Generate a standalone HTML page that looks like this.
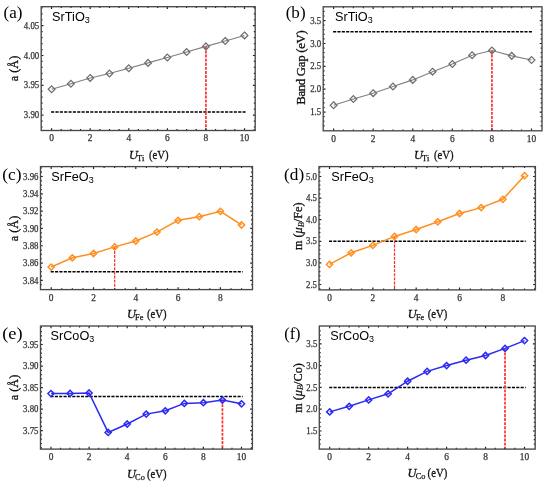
<!DOCTYPE html>
<html><head><meta charset="utf-8"><style>
html,body{margin:0;padding:0;background:#fff;}
svg{display:block;will-change:transform;}
.tl{font-family:"Liberation Serif", serif;font-size:9.4px;fill:#333;stroke:#333;stroke-width:0.25px;}
.pl{font-family:"Liberation Serif", serif;font-size:15.8px;fill:#000;}
.ti{font-family:"Liberation Sans", sans-serif;font-size:12.7px;fill:#000;}
.sub{font-size:9px;}
.yl{font-family:"Liberation Serif", serif;font-size:12.8px;fill:#111;stroke:#111;stroke-width:0.3px;letter-spacing:-0.3px;}
.xl{font-family:"Liberation Serif", serif;font-size:12.3px;fill:#111;stroke:#111;stroke-width:0.3px;}
</style></head><body>
<svg width="550" height="484" viewBox="0 0 550 484">
<rect width="550" height="484" fill="#fff"/>
<line x1="51.1" y1="112.12" x2="245.7" y2="112.12" stroke="#000" stroke-width="1.5" stroke-dasharray="3.1 1.25"/>
<line x1="205.92" y1="46.38" x2="205.92" y2="130.5" stroke="#ff3333" stroke-width="1.75" stroke-dasharray="2.9 1.2"/>
<polyline points="51.6,89.29 70.89,83.81 90.18,77.91 109.47,73.5 128.76,68.31 148.05,62.89 167.34,57.53 186.63,51.98 205.92,46.38 225.21,40.96 244.5,35.41" fill="none" stroke="#7f7f7f" stroke-width="1.1"/>
<path d="M51.6 85.89L55 89.29L51.6 92.69L48.2 89.29Z" fill="none" stroke="#6e6e6e" stroke-width="1.25"/>
<path d="M70.89 80.41L74.29 83.81L70.89 87.21L67.49 83.81Z" fill="none" stroke="#6e6e6e" stroke-width="1.25"/>
<path d="M90.18 74.51L93.58 77.91L90.18 81.31L86.78 77.91Z" fill="none" stroke="#6e6e6e" stroke-width="1.25"/>
<path d="M109.47 70.1L112.87 73.5L109.47 76.9L106.07 73.5Z" fill="none" stroke="#6e6e6e" stroke-width="1.25"/>
<path d="M128.76 64.91L132.16 68.31L128.76 71.71L125.36 68.31Z" fill="none" stroke="#6e6e6e" stroke-width="1.25"/>
<path d="M148.05 59.49L151.45 62.89L148.05 66.29L144.65 62.89Z" fill="none" stroke="#6e6e6e" stroke-width="1.25"/>
<path d="M167.34 54.13L170.74 57.53L167.34 60.93L163.94 57.53Z" fill="none" stroke="#6e6e6e" stroke-width="1.25"/>
<path d="M186.63 48.58L190.03 51.98L186.63 55.38L183.23 51.98Z" fill="none" stroke="#6e6e6e" stroke-width="1.25"/>
<path d="M205.92 42.98L209.32 46.38L205.92 49.78L202.52 46.38Z" fill="none" stroke="#6e6e6e" stroke-width="1.25"/>
<path d="M225.21 37.56L228.61 40.96L225.21 44.36L221.81 40.96Z" fill="none" stroke="#6e6e6e" stroke-width="1.25"/>
<path d="M244.5 32.01L247.9 35.41L244.5 38.81L241.1 35.41Z" fill="none" stroke="#6e6e6e" stroke-width="1.25"/>
<path d="M51.6 130.5V128.2M51.6 6.7V9M61.25 130.5V129.1M61.25 6.7V8.1M70.89 130.5V129.1M70.89 6.7V8.1M80.53 130.5V129.1M80.53 6.7V8.1M90.18 130.5V128.2M90.18 6.7V9M99.82 130.5V129.1M99.82 6.7V8.1M109.47 130.5V129.1M109.47 6.7V8.1M119.12 130.5V129.1M119.12 6.7V8.1M128.76 130.5V128.2M128.76 6.7V9M138.41 130.5V129.1M138.41 6.7V8.1M148.05 130.5V129.1M148.05 6.7V8.1M157.69 130.5V129.1M157.69 6.7V8.1M167.34 130.5V128.2M167.34 6.7V9M176.98 130.5V129.1M176.98 6.7V8.1M186.63 130.5V129.1M186.63 6.7V8.1M196.27 130.5V129.1M196.27 6.7V8.1M205.92 130.5V128.2M205.92 6.7V9M215.56 130.5V129.1M215.56 6.7V8.1M225.21 130.5V129.1M225.21 6.7V8.1M234.85 130.5V129.1M234.85 6.7V8.1M244.5 130.5V128.2M244.5 6.7V9M254.14 130.5V129.1M254.14 6.7V8.1M41.2 127.02H42.6M255.2 127.02H253.8M41.2 121.06H42.6M255.2 121.06H253.8M41.2 115.1H43.5M255.2 115.1H252.9M41.2 109.14H42.6M255.2 109.14H253.8M41.2 103.18H42.6M255.2 103.18H253.8M41.2 97.22H42.6M255.2 97.22H253.8M41.2 91.26H42.6M255.2 91.26H253.8M41.2 85.3H43.5M255.2 85.3H252.9M41.2 79.34H42.6M255.2 79.34H253.8M41.2 73.38H42.6M255.2 73.38H253.8M41.2 67.42H42.6M255.2 67.42H253.8M41.2 61.46H42.6M255.2 61.46H253.8M41.2 55.5H43.5M255.2 55.5H252.9M41.2 49.54H42.6M255.2 49.54H253.8M41.2 43.58H42.6M255.2 43.58H253.8M41.2 37.62H42.6M255.2 37.62H253.8M41.2 31.66H42.6M255.2 31.66H253.8M41.2 25.7H43.5M255.2 25.7H252.9M41.2 19.74H42.6M255.2 19.74H253.8M41.2 13.78H42.6M255.2 13.78H253.8M41.2 7.82H42.6M255.2 7.82H253.8" stroke="#222" stroke-width="1.2" fill="none"/>
<rect x="41.2" y="6.7" width="214" height="123.8" fill="none" stroke="#484848" stroke-width="1.35"/>
<text x="23.8" y="118.2" class="tl" textLength="15.4" lengthAdjust="spacingAndGlyphs">3.90</text>
<text x="23.8" y="88.4" class="tl" textLength="15.4" lengthAdjust="spacingAndGlyphs">3.95</text>
<text x="23.8" y="58.6" class="tl" textLength="15.4" lengthAdjust="spacingAndGlyphs">4.00</text>
<text x="23.8" y="28.8" class="tl" textLength="15.4" lengthAdjust="spacingAndGlyphs">4.05</text>
<text x="51.6" y="141.4" class="tl" text-anchor="middle">0</text>
<text x="90.18" y="141.4" class="tl" text-anchor="middle">2</text>
<text x="128.76" y="141.4" class="tl" text-anchor="middle">4</text>
<text x="167.34" y="141.4" class="tl" text-anchor="middle">6</text>
<text x="205.92" y="141.4" class="tl" text-anchor="middle">8</text>
<text x="244.5" y="141.4" class="tl" text-anchor="middle">10</text>
<text x="3.5" y="18.4" class="pl" textLength="18.9" lengthAdjust="spacingAndGlyphs">(a)</text>
<text x="52.1" y="21.1" class="ti">SrTiO<tspan class="sub" dy="1.7">3</tspan></text>
<text transform="translate(13.6 68.5) rotate(-90)" class="yl" text-anchor="middle" dominant-baseline="central" style="font-size:12.2px;letter-spacing:0">a (Å)</text>
<text x="129" y="159" class="xl" font-style="italic">U</text>
<text x="137.1" y="161" class="xl" style="font-size:8.4px;stroke-width:0.25px">Ti</text>
<text x="149" y="159" class="xl" textLength="19.6" lengthAdjust="spacingAndGlyphs">(eV)</text>
<line x1="333.1" y1="31.85" x2="532.7" y2="31.85" stroke="#000" stroke-width="1.5" stroke-dasharray="3.1 1.25"/>
<line x1="491.92" y1="50.47" x2="491.92" y2="130.8" stroke="#ff3333" stroke-width="1.75" stroke-dasharray="2.9 1.2"/>
<polyline points="333.6,105.19 353.39,99.06 373.18,93.16 392.97,86.48 412.76,79.89 432.55,71.66 452.34,63.97 472.13,55.28 491.92,50.47 511.71,55.87 531.5,60.08" fill="none" stroke="#7f7f7f" stroke-width="1.1"/>
<path d="M333.6 101.79L337 105.19L333.6 108.59L330.2 105.19Z" fill="none" stroke="#6e6e6e" stroke-width="1.25"/>
<path d="M353.39 95.66L356.79 99.06L353.39 102.46L349.99 99.06Z" fill="none" stroke="#6e6e6e" stroke-width="1.25"/>
<path d="M373.18 89.76L376.58 93.16L373.18 96.56L369.78 93.16Z" fill="none" stroke="#6e6e6e" stroke-width="1.25"/>
<path d="M392.97 83.08L396.37 86.48L392.97 89.88L389.57 86.48Z" fill="none" stroke="#6e6e6e" stroke-width="1.25"/>
<path d="M412.76 76.49L416.16 79.89L412.76 83.29L409.36 79.89Z" fill="none" stroke="#6e6e6e" stroke-width="1.25"/>
<path d="M432.55 68.26L435.95 71.66L432.55 75.06L429.15 71.66Z" fill="none" stroke="#6e6e6e" stroke-width="1.25"/>
<path d="M452.34 60.57L455.74 63.97L452.34 67.37L448.94 63.97Z" fill="none" stroke="#6e6e6e" stroke-width="1.25"/>
<path d="M472.13 51.88L475.53 55.28L472.13 58.68L468.73 55.28Z" fill="none" stroke="#6e6e6e" stroke-width="1.25"/>
<path d="M491.92 47.07L495.32 50.47L491.92 53.87L488.52 50.47Z" fill="none" stroke="#6e6e6e" stroke-width="1.25"/>
<path d="M511.71 52.47L515.11 55.87L511.71 59.27L508.31 55.87Z" fill="none" stroke="#6e6e6e" stroke-width="1.25"/>
<path d="M531.5 56.68L534.9 60.08L531.5 63.48L528.1 60.08Z" fill="none" stroke="#6e6e6e" stroke-width="1.25"/>
<path d="M333.6 130.8V128.5M333.6 6.8V9.1M343.5 130.8V129.4M343.5 6.8V8.2M353.39 130.8V129.4M353.39 6.8V8.2M363.29 130.8V129.4M363.29 6.8V8.2M373.18 130.8V128.5M373.18 6.8V9.1M383.08 130.8V129.4M383.08 6.8V8.2M392.97 130.8V129.4M392.97 6.8V8.2M402.87 130.8V129.4M402.87 6.8V8.2M412.76 130.8V128.5M412.76 6.8V9.1M422.66 130.8V129.4M422.66 6.8V8.2M432.55 130.8V129.4M432.55 6.8V8.2M442.45 130.8V129.4M442.45 6.8V8.2M452.34 130.8V128.5M452.34 6.8V9.1M462.24 130.8V129.4M462.24 6.8V8.2M472.13 130.8V129.4M472.13 6.8V8.2M482.02 130.8V129.4M482.02 6.8V8.2M491.92 130.8V128.5M491.92 6.8V9.1M501.82 130.8V129.4M501.82 6.8V8.2M511.71 130.8V129.4M511.71 6.8V8.2M521.61 130.8V129.4M521.61 6.8V8.2M531.5 130.8V128.5M531.5 6.8V9.1M323.2 125.82H324.6M542 125.82H540.6M323.2 121.25H324.6M542 121.25H540.6M323.2 116.67H324.6M542 116.67H540.6M323.2 112.1H325.5M542 112.1H539.7M323.2 107.53H324.6M542 107.53H540.6M323.2 102.95H324.6M542 102.95H540.6M323.2 98.38H324.6M542 98.38H540.6M323.2 93.8H324.6M542 93.8H540.6M323.2 89.22H325.5M542 89.22H539.7M323.2 84.65H324.6M542 84.65H540.6M323.2 80.07H324.6M542 80.07H540.6M323.2 75.5H324.6M542 75.5H540.6M323.2 70.92H324.6M542 70.92H540.6M323.2 66.35H325.5M542 66.35H539.7M323.2 61.77H324.6M542 61.77H540.6M323.2 57.2H324.6M542 57.2H540.6M323.2 52.62H324.6M542 52.62H540.6M323.2 48.05H324.6M542 48.05H540.6M323.2 43.48H325.5M542 43.48H539.7M323.2 38.9H324.6M542 38.9H540.6M323.2 34.32H324.6M542 34.32H540.6M323.2 29.75H324.6M542 29.75H540.6M323.2 25.17H324.6M542 25.17H540.6M323.2 20.6H325.5M542 20.6H539.7M323.2 16.02H324.6M542 16.02H540.6M323.2 11.45H324.6M542 11.45H540.6" stroke="#222" stroke-width="1.2" fill="none"/>
<rect x="323.2" y="6.8" width="218.8" height="124" fill="none" stroke="#484848" stroke-width="1.35"/>
<text x="310.2" y="115.2" class="tl" textLength="11.0" lengthAdjust="spacingAndGlyphs">1.5</text>
<text x="310.2" y="92.32" class="tl" textLength="11.0" lengthAdjust="spacingAndGlyphs">2.0</text>
<text x="310.2" y="69.45" class="tl" textLength="11.0" lengthAdjust="spacingAndGlyphs">2.5</text>
<text x="310.2" y="46.58" class="tl" textLength="11.0" lengthAdjust="spacingAndGlyphs">3.0</text>
<text x="310.2" y="23.7" class="tl" textLength="11.0" lengthAdjust="spacingAndGlyphs">3.5</text>
<text x="333.6" y="141.7" class="tl" text-anchor="middle">0</text>
<text x="373.18" y="141.7" class="tl" text-anchor="middle">2</text>
<text x="412.76" y="141.7" class="tl" text-anchor="middle">4</text>
<text x="452.34" y="141.7" class="tl" text-anchor="middle">6</text>
<text x="491.92" y="141.7" class="tl" text-anchor="middle">8</text>
<text x="531.5" y="141.7" class="tl" text-anchor="middle">10</text>
<text x="285.7" y="18.4" class="pl" textLength="19.9" lengthAdjust="spacingAndGlyphs">(b)</text>
<text x="335" y="21.3" class="ti">SrTiO<tspan class="sub" dy="1.7">3</tspan></text>
<text transform="translate(300.7 67.7) rotate(-90)" class="yl" text-anchor="middle" dominant-baseline="central">Band Gap (eV)</text>
<text x="414" y="158.6" class="xl" font-style="italic">U</text>
<text x="422.1" y="160.6" class="xl" style="font-size:8.4px;stroke-width:0.25px">Ti</text>
<text x="434" y="158.6" class="xl" textLength="19.6" lengthAdjust="spacingAndGlyphs">(eV)</text>
<line x1="50.7" y1="271.74" x2="242.75" y2="271.74" stroke="#000" stroke-width="1.5" stroke-dasharray="3.1 1.25"/>
<line x1="114.65" y1="246.89" x2="114.65" y2="289.6" stroke="#ff3333" stroke-width="1.3" stroke-dasharray="2.9 1.2"/>
<polyline points="51.2,267.06 72.35,257.8 93.5,253.47 114.65,246.89 135.8,241 156.95,232.08 178.1,220.31 199.25,216.67 220.4,211.31 241.55,224.98" fill="none" stroke="#ff8f1f" stroke-width="1.5"/>
<path d="M51.2 263.96L54.3 267.06L51.2 270.16L48.1 267.06Z" fill="none" stroke="#ff8f1f" stroke-width="1.5"/>
<path d="M72.35 254.7L75.45 257.8L72.35 260.9L69.25 257.8Z" fill="none" stroke="#ff8f1f" stroke-width="1.5"/>
<path d="M93.5 250.37L96.6 253.47L93.5 256.57L90.4 253.47Z" fill="none" stroke="#ff8f1f" stroke-width="1.5"/>
<path d="M114.65 243.79L117.75 246.89L114.65 249.99L111.55 246.89Z" fill="none" stroke="#ff8f1f" stroke-width="1.5"/>
<path d="M135.8 237.9L138.9 241L135.8 244.1L132.7 241Z" fill="none" stroke="#ff8f1f" stroke-width="1.5"/>
<path d="M156.95 228.98L160.05 232.08L156.95 235.18L153.85 232.08Z" fill="none" stroke="#ff8f1f" stroke-width="1.5"/>
<path d="M178.1 217.21L181.2 220.31L178.1 223.41L175 220.31Z" fill="none" stroke="#ff8f1f" stroke-width="1.5"/>
<path d="M199.25 213.57L202.35 216.67L199.25 219.77L196.15 216.67Z" fill="none" stroke="#ff8f1f" stroke-width="1.5"/>
<path d="M220.4 208.21L223.5 211.31L220.4 214.41L217.3 211.31Z" fill="none" stroke="#ff8f1f" stroke-width="1.5"/>
<path d="M241.55 221.88L244.65 224.98L241.55 228.08L238.45 224.98Z" fill="none" stroke="#ff8f1f" stroke-width="1.5"/>
<path d="M51.2 289.6V287.3M51.2 166.6V168.9M61.78 289.6V288.2M61.78 166.6V168M72.35 289.6V288.2M72.35 166.6V168M82.92 289.6V288.2M82.92 166.6V168M93.5 289.6V287.3M93.5 166.6V168.9M104.08 289.6V288.2M104.08 166.6V168M114.65 289.6V288.2M114.65 166.6V168M125.22 289.6V288.2M125.22 166.6V168M135.8 289.6V287.3M135.8 166.6V168.9M146.38 289.6V288.2M146.38 166.6V168M156.95 289.6V288.2M156.95 166.6V168M167.52 289.6V288.2M167.52 166.6V168M178.1 289.6V287.3M178.1 166.6V168.9M188.68 289.6V288.2M188.68 166.6V168M199.25 289.6V288.2M199.25 166.6V168M209.82 289.6V288.2M209.82 166.6V168M220.4 289.6V287.3M220.4 166.6V168.9M230.97 289.6V288.2M230.97 166.6V168M241.55 289.6V288.2M241.55 166.6V168M40.5 284.73H41.9M252.5 284.73H251.1M40.5 280.4H42.8M252.5 280.4H250.2M40.5 276.07H41.9M252.5 276.07H251.1M40.5 271.74H41.9M252.5 271.74H251.1M40.5 267.41H41.9M252.5 267.41H251.1M40.5 263.08H42.8M252.5 263.08H250.2M40.5 258.75H41.9M252.5 258.75H251.1M40.5 254.42H41.9M252.5 254.42H251.1M40.5 250.09H41.9M252.5 250.09H251.1M40.5 245.76H42.8M252.5 245.76H250.2M40.5 241.43H41.9M252.5 241.43H251.1M40.5 237.11H41.9M252.5 237.11H251.1M40.5 232.78H41.9M252.5 232.78H251.1M40.5 228.45H42.8M252.5 228.45H250.2M40.5 224.12H41.9M252.5 224.12H251.1M40.5 219.79H41.9M252.5 219.79H251.1M40.5 215.46H41.9M252.5 215.46H251.1M40.5 211.13H42.8M252.5 211.13H250.2M40.5 206.8H41.9M252.5 206.8H251.1M40.5 202.47H41.9M252.5 202.47H251.1M40.5 198.14H41.9M252.5 198.14H251.1M40.5 193.82H42.8M252.5 193.82H250.2M40.5 189.49H41.9M252.5 189.49H251.1M40.5 185.16H41.9M252.5 185.16H251.1M40.5 180.83H41.9M252.5 180.83H251.1M40.5 176.5H42.8M252.5 176.5H250.2M40.5 172.17H41.9M252.5 172.17H251.1M40.5 167.84H41.9M252.5 167.84H251.1" stroke="#222" stroke-width="1.2" fill="none"/>
<rect x="40.5" y="166.6" width="212" height="123" fill="none" stroke="#484848" stroke-width="1.35"/>
<text x="23.1" y="283.5" class="tl" textLength="15.4" lengthAdjust="spacingAndGlyphs">3.84</text>
<text x="23.1" y="266.18" class="tl" textLength="15.4" lengthAdjust="spacingAndGlyphs">3.86</text>
<text x="23.1" y="248.86" class="tl" textLength="15.4" lengthAdjust="spacingAndGlyphs">3.88</text>
<text x="23.1" y="231.55" class="tl" textLength="15.4" lengthAdjust="spacingAndGlyphs">3.90</text>
<text x="23.1" y="214.23" class="tl" textLength="15.4" lengthAdjust="spacingAndGlyphs">3.92</text>
<text x="23.1" y="196.92" class="tl" textLength="15.4" lengthAdjust="spacingAndGlyphs">3.94</text>
<text x="23.1" y="179.6" class="tl" textLength="15.4" lengthAdjust="spacingAndGlyphs">3.96</text>
<text x="51.2" y="300.5" class="tl" text-anchor="middle">0</text>
<text x="93.5" y="300.5" class="tl" text-anchor="middle">2</text>
<text x="135.8" y="300.5" class="tl" text-anchor="middle">4</text>
<text x="178.1" y="300.5" class="tl" text-anchor="middle">6</text>
<text x="220.4" y="300.5" class="tl" text-anchor="middle">8</text>
<text x="2.2" y="179.8" class="pl" textLength="19.4" lengthAdjust="spacingAndGlyphs">(c)</text>
<text x="51.3" y="181.1" class="ti">SrFeO<tspan class="sub" dy="1.7">3</tspan></text>
<text transform="translate(14.2 228.5) rotate(-90)" class="yl" text-anchor="middle" dominant-baseline="central" style="font-size:12.2px;letter-spacing:0">a (Å)</text>
<text x="127" y="318" class="xl" font-style="italic">U</text>
<text x="135.1" y="320" class="xl" style="font-size:8.4px;stroke-width:0.25px">Fe</text>
<text x="147" y="318" class="xl" textLength="19.6" lengthAdjust="spacingAndGlyphs">(eV)</text>
<line x1="329" y1="241.3" x2="525.73" y2="241.3" stroke="#000" stroke-width="1.5" stroke-dasharray="3.1 1.25"/>
<line x1="394.51" y1="236.42" x2="394.51" y2="289.9" stroke="#ff3333" stroke-width="1.3" stroke-dasharray="2.9 1.2"/>
<polyline points="329.5,264.41 351.17,252.79 372.84,245.4 394.51,236.42 416.18,229.51 437.85,221.82 459.52,213.48 481.19,207.6 502.86,199.31 524.53,175.68" fill="none" stroke="#ff8f1f" stroke-width="1.5"/>
<path d="M329.5 261.31L332.6 264.41L329.5 267.51L326.4 264.41Z" fill="none" stroke="#ff8f1f" stroke-width="1.5"/>
<path d="M351.17 249.69L354.27 252.79L351.17 255.89L348.07 252.79Z" fill="none" stroke="#ff8f1f" stroke-width="1.5"/>
<path d="M372.84 242.3L375.94 245.4L372.84 248.5L369.74 245.4Z" fill="none" stroke="#ff8f1f" stroke-width="1.5"/>
<path d="M394.51 233.32L397.61 236.42L394.51 239.52L391.41 236.42Z" fill="none" stroke="#ff8f1f" stroke-width="1.5"/>
<path d="M416.18 226.41L419.28 229.51L416.18 232.61L413.08 229.51Z" fill="none" stroke="#ff8f1f" stroke-width="1.5"/>
<path d="M437.85 218.72L440.95 221.82L437.85 224.92L434.75 221.82Z" fill="none" stroke="#ff8f1f" stroke-width="1.5"/>
<path d="M459.52 210.38L462.62 213.48L459.52 216.58L456.42 213.48Z" fill="none" stroke="#ff8f1f" stroke-width="1.5"/>
<path d="M481.19 204.5L484.29 207.6L481.19 210.7L478.09 207.6Z" fill="none" stroke="#ff8f1f" stroke-width="1.5"/>
<path d="M502.86 196.21L505.96 199.31L502.86 202.41L499.76 199.31Z" fill="none" stroke="#ff8f1f" stroke-width="1.5"/>
<path d="M524.53 172.58L527.63 175.68L524.53 178.78L521.43 175.68Z" fill="none" stroke="#ff8f1f" stroke-width="1.5"/>
<path d="M329.5 289.9V287.6M329.5 166.6V168.9M340.33 289.9V288.5M340.33 166.6V168M351.17 289.9V288.5M351.17 166.6V168M362 289.9V288.5M362 166.6V168M372.84 289.9V287.6M372.84 166.6V168.9M383.68 289.9V288.5M383.68 166.6V168M394.51 289.9V288.5M394.51 166.6V168M405.35 289.9V288.5M405.35 166.6V168M416.18 289.9V287.6M416.18 166.6V168.9M427.01 289.9V288.5M427.01 166.6V168M437.85 289.9V288.5M437.85 166.6V168M448.69 289.9V288.5M448.69 166.6V168M459.52 289.9V287.6M459.52 166.6V168.9M470.36 289.9V288.5M470.36 166.6V168M481.19 289.9V288.5M481.19 166.6V168M492.02 289.9V288.5M492.02 166.6V168M502.86 289.9V287.6M502.86 166.6V168.9M513.7 289.9V288.5M513.7 166.6V168M524.53 289.9V288.5M524.53 166.6V168M319 288.82H320.4M535.4 288.82H534M319 284.5H321.3M535.4 284.5H533.1M319 280.18H320.4M535.4 280.18H534M319 275.86H320.4M535.4 275.86H534M319 271.54H320.4M535.4 271.54H534M319 267.22H320.4M535.4 267.22H534M319 262.9H321.3M535.4 262.9H533.1M319 258.58H320.4M535.4 258.58H534M319 254.26H320.4M535.4 254.26H534M319 249.94H320.4M535.4 249.94H534M319 245.62H320.4M535.4 245.62H534M319 241.3H321.3M535.4 241.3H533.1M319 236.98H320.4M535.4 236.98H534M319 232.66H320.4M535.4 232.66H534M319 228.34H320.4M535.4 228.34H534M319 224.02H320.4M535.4 224.02H534M319 219.7H321.3M535.4 219.7H533.1M319 215.38H320.4M535.4 215.38H534M319 211.06H320.4M535.4 211.06H534M319 206.74H320.4M535.4 206.74H534M319 202.42H320.4M535.4 202.42H534M319 198.1H321.3M535.4 198.1H533.1M319 193.78H320.4M535.4 193.78H534M319 189.46H320.4M535.4 189.46H534M319 185.14H320.4M535.4 185.14H534M319 180.82H320.4M535.4 180.82H534M319 176.5H321.3M535.4 176.5H533.1M319 172.18H320.4M535.4 172.18H534M319 167.86H320.4M535.4 167.86H534" stroke="#222" stroke-width="1.2" fill="none"/>
<rect x="319" y="166.6" width="216.4" height="123.3" fill="none" stroke="#484848" stroke-width="1.35"/>
<text x="306" y="287.6" class="tl" textLength="11.0" lengthAdjust="spacingAndGlyphs">2.5</text>
<text x="306" y="266" class="tl" textLength="11.0" lengthAdjust="spacingAndGlyphs">3.0</text>
<text x="306" y="244.4" class="tl" textLength="11.0" lengthAdjust="spacingAndGlyphs">3.5</text>
<text x="306" y="222.8" class="tl" textLength="11.0" lengthAdjust="spacingAndGlyphs">4.0</text>
<text x="306" y="201.2" class="tl" textLength="11.0" lengthAdjust="spacingAndGlyphs">4.5</text>
<text x="306" y="179.6" class="tl" textLength="11.0" lengthAdjust="spacingAndGlyphs">5.0</text>
<text x="329.5" y="300.8" class="tl" text-anchor="middle">0</text>
<text x="372.84" y="300.8" class="tl" text-anchor="middle">2</text>
<text x="416.18" y="300.8" class="tl" text-anchor="middle">4</text>
<text x="459.52" y="300.8" class="tl" text-anchor="middle">6</text>
<text x="502.86" y="300.8" class="tl" text-anchor="middle">8</text>
<text x="284.1" y="179.8" class="pl" textLength="20.1" lengthAdjust="spacingAndGlyphs">(d)</text>
<text x="331.3" y="181.1" class="ti">SrFeO<tspan class="sub" dy="1.7">3</tspan></text>
<text transform="translate(298 226.3) rotate(-90)" class="yl" text-anchor="middle" dominant-baseline="central" style="letter-spacing:0;font-size:12.2px">m (<tspan font-style="italic">μ</tspan><tspan font-style="italic" style="font-size:8.5px;stroke-width:0.15px" dy="2.6">B</tspan><tspan dy="-2.6">/Fe)</tspan></text>
<text x="407.8" y="318" class="xl" font-style="italic">U</text>
<text x="415.9" y="320" class="xl" style="font-size:8.4px;stroke-width:0.25px">Fe</text>
<text x="427.8" y="318" class="xl" textLength="19.6" lengthAdjust="spacingAndGlyphs">(eV)</text>
<line x1="50.5" y1="396.59" x2="242.7" y2="396.59" stroke="#000" stroke-width="1.5" stroke-dasharray="3.1 1.25"/>
<line x1="222.45" y1="400.12" x2="222.45" y2="449.1" stroke="#ff3333" stroke-width="1.75" stroke-dasharray="2.9 1.2"/>
<polyline points="51,393.58 70.05,393.4 89.1,393.02 108.15,432.41 127.2,424.01 146.25,414.11 165.3,410.8 184.35,403.39 203.4,402.7 222.45,400.12 241.5,403.82" fill="none" stroke="#2a2af2" stroke-width="1.5"/>
<path d="M51 390.48L54.1 393.58L51 396.68L47.9 393.58Z" fill="none" stroke="#2a2af2" stroke-width="1.5"/>
<path d="M70.05 390.3L73.15 393.4L70.05 396.5L66.95 393.4Z" fill="none" stroke="#2a2af2" stroke-width="1.5"/>
<path d="M89.1 389.92L92.2 393.02L89.1 396.12L86 393.02Z" fill="none" stroke="#2a2af2" stroke-width="1.5"/>
<path d="M108.15 429.31L111.25 432.41L108.15 435.51L105.05 432.41Z" fill="none" stroke="#2a2af2" stroke-width="1.5"/>
<path d="M127.2 420.91L130.3 424.01L127.2 427.11L124.1 424.01Z" fill="none" stroke="#2a2af2" stroke-width="1.5"/>
<path d="M146.25 411.01L149.35 414.11L146.25 417.21L143.15 414.11Z" fill="none" stroke="#2a2af2" stroke-width="1.5"/>
<path d="M165.3 407.7L168.4 410.8L165.3 413.9L162.2 410.8Z" fill="none" stroke="#2a2af2" stroke-width="1.5"/>
<path d="M184.35 400.29L187.45 403.39L184.35 406.49L181.25 403.39Z" fill="none" stroke="#2a2af2" stroke-width="1.5"/>
<path d="M203.4 399.6L206.5 402.7L203.4 405.8L200.3 402.7Z" fill="none" stroke="#2a2af2" stroke-width="1.5"/>
<path d="M222.45 397.02L225.55 400.12L222.45 403.22L219.35 400.12Z" fill="none" stroke="#2a2af2" stroke-width="1.5"/>
<path d="M241.5 400.72L244.6 403.82L241.5 406.92L238.4 403.82Z" fill="none" stroke="#2a2af2" stroke-width="1.5"/>
<path d="M51 449.1V446.8M51 326V328.3M60.52 449.1V447.7M60.52 326V327.4M70.05 449.1V447.7M70.05 326V327.4M79.58 449.1V447.7M79.58 326V327.4M89.1 449.1V446.8M89.1 326V328.3M98.62 449.1V447.7M98.62 326V327.4M108.15 449.1V447.7M108.15 326V327.4M117.67 449.1V447.7M117.67 326V327.4M127.2 449.1V446.8M127.2 326V328.3M136.73 449.1V447.7M136.73 326V327.4M146.25 449.1V447.7M146.25 326V327.4M155.78 449.1V447.7M155.78 326V327.4M165.3 449.1V446.8M165.3 326V328.3M174.82 449.1V447.7M174.82 326V327.4M184.35 449.1V447.7M184.35 326V327.4M193.88 449.1V447.7M193.88 326V327.4M203.4 449.1V446.8M203.4 326V328.3M212.93 449.1V447.7M212.93 326V327.4M222.45 449.1V447.7M222.45 326V327.4M231.97 449.1V447.7M231.97 326V327.4M241.5 449.1V446.8M241.5 326V328.3M251.03 449.1V447.7M251.03 326V327.4M40.5 447.82H41.9M252.4 447.82H251M40.5 443.51H41.9M252.4 443.51H251M40.5 439.21H41.9M252.4 439.21H251M40.5 434.9H41.9M252.4 434.9H251M40.5 430.6H42.8M252.4 430.6H250.1M40.5 426.29H41.9M252.4 426.29H251M40.5 421.99H41.9M252.4 421.99H251M40.5 417.68H41.9M252.4 417.68H251M40.5 413.38H41.9M252.4 413.38H251M40.5 409.07H42.8M252.4 409.07H250.1M40.5 404.77H41.9M252.4 404.77H251M40.5 400.46H41.9M252.4 400.46H251M40.5 396.16H41.9M252.4 396.16H251M40.5 391.86H41.9M252.4 391.86H251M40.5 387.55H42.8M252.4 387.55H250.1M40.5 383.25H41.9M252.4 383.25H251M40.5 378.94H41.9M252.4 378.94H251M40.5 374.64H41.9M252.4 374.64H251M40.5 370.33H41.9M252.4 370.33H251M40.5 366.03H42.8M252.4 366.03H250.1M40.5 361.72H41.9M252.4 361.72H251M40.5 357.42H41.9M252.4 357.42H251M40.5 353.11H41.9M252.4 353.11H251M40.5 348.81H41.9M252.4 348.81H251M40.5 344.5H42.8M252.4 344.5H250.1M40.5 340.2H41.9M252.4 340.2H251M40.5 335.89H41.9M252.4 335.89H251M40.5 331.59H41.9M252.4 331.59H251M40.5 327.28H41.9M252.4 327.28H251" stroke="#222" stroke-width="1.2" fill="none"/>
<rect x="40.5" y="326" width="211.9" height="123.1" fill="none" stroke="#484848" stroke-width="1.35"/>
<text x="23.1" y="433.7" class="tl" textLength="15.4" lengthAdjust="spacingAndGlyphs">3.75</text>
<text x="23.1" y="412.18" class="tl" textLength="15.4" lengthAdjust="spacingAndGlyphs">3.80</text>
<text x="23.1" y="390.65" class="tl" textLength="15.4" lengthAdjust="spacingAndGlyphs">3.85</text>
<text x="23.1" y="369.13" class="tl" textLength="15.4" lengthAdjust="spacingAndGlyphs">3.90</text>
<text x="23.1" y="347.6" class="tl" textLength="15.4" lengthAdjust="spacingAndGlyphs">3.95</text>
<text x="51" y="460" class="tl" text-anchor="middle">0</text>
<text x="89.1" y="460" class="tl" text-anchor="middle">2</text>
<text x="127.2" y="460" class="tl" text-anchor="middle">4</text>
<text x="165.3" y="460" class="tl" text-anchor="middle">6</text>
<text x="203.4" y="460" class="tl" text-anchor="middle">8</text>
<text x="241.5" y="460" class="tl" text-anchor="middle">10</text>
<text x="2.2" y="338.7" class="pl" textLength="20.4" lengthAdjust="spacingAndGlyphs">(e)</text>
<text x="50.5" y="340.4" class="ti">SrCoO<tspan class="sub" dy="1.7">3</tspan></text>
<text transform="translate(14 387.5) rotate(-90)" class="yl" text-anchor="middle" dominant-baseline="central" style="font-size:12.2px;letter-spacing:0">a (Å)</text>
<text x="127" y="477.6" class="xl" font-style="italic">U</text>
<text x="135.1" y="479.6" class="xl" style="font-size:8.4px;stroke-width:0.25px">Co</text>
<text x="147" y="477.6" class="xl" textLength="19.6" lengthAdjust="spacingAndGlyphs">(eV)</text>
<line x1="329.2" y1="387.45" x2="525.7" y2="387.45" stroke="#000" stroke-width="1.5" stroke-dasharray="3.1 1.25"/>
<line x1="505.02" y1="348.39" x2="505.02" y2="449.1" stroke="#ff3333" stroke-width="1.75" stroke-dasharray="2.9 1.2"/>
<polyline points="329.7,411.9 349.18,406.31 368.66,399.91 388.14,393.81 407.62,381.22 427.1,371.38 446.58,365.59 466.06,360.19 485.54,355.48 505.02,348.39 524.5,340.59" fill="none" stroke="#2a2af2" stroke-width="1.5"/>
<path d="M329.7 408.8L332.8 411.9L329.7 415L326.6 411.9Z" fill="none" stroke="#2a2af2" stroke-width="1.5"/>
<path d="M349.18 403.21L352.28 406.31L349.18 409.41L346.08 406.31Z" fill="none" stroke="#2a2af2" stroke-width="1.5"/>
<path d="M368.66 396.81L371.76 399.91L368.66 403.01L365.56 399.91Z" fill="none" stroke="#2a2af2" stroke-width="1.5"/>
<path d="M388.14 390.71L391.24 393.81L388.14 396.91L385.04 393.81Z" fill="none" stroke="#2a2af2" stroke-width="1.5"/>
<path d="M407.62 378.12L410.72 381.22L407.62 384.32L404.52 381.22Z" fill="none" stroke="#2a2af2" stroke-width="1.5"/>
<path d="M427.1 368.28L430.2 371.38L427.1 374.48L424 371.38Z" fill="none" stroke="#2a2af2" stroke-width="1.5"/>
<path d="M446.58 362.49L449.68 365.59L446.58 368.69L443.48 365.59Z" fill="none" stroke="#2a2af2" stroke-width="1.5"/>
<path d="M466.06 357.09L469.16 360.19L466.06 363.29L462.96 360.19Z" fill="none" stroke="#2a2af2" stroke-width="1.5"/>
<path d="M485.54 352.38L488.64 355.48L485.54 358.58L482.44 355.48Z" fill="none" stroke="#2a2af2" stroke-width="1.5"/>
<path d="M505.02 345.29L508.12 348.39L505.02 351.49L501.92 348.39Z" fill="none" stroke="#2a2af2" stroke-width="1.5"/>
<path d="M524.5 337.49L527.6 340.59L524.5 343.69L521.4 340.59Z" fill="none" stroke="#2a2af2" stroke-width="1.5"/>
<path d="M329.7 449.1V446.8M329.7 326V328.3M339.44 449.1V447.7M339.44 326V327.4M349.18 449.1V447.7M349.18 326V327.4M358.92 449.1V447.7M358.92 326V327.4M368.66 449.1V446.8M368.66 326V328.3M378.4 449.1V447.7M378.4 326V327.4M388.14 449.1V447.7M388.14 326V327.4M397.88 449.1V447.7M397.88 326V327.4M407.62 449.1V446.8M407.62 326V328.3M417.36 449.1V447.7M417.36 326V327.4M427.1 449.1V447.7M427.1 326V327.4M436.84 449.1V447.7M436.84 326V327.4M446.58 449.1V446.8M446.58 326V328.3M456.32 449.1V447.7M456.32 326V327.4M466.06 449.1V447.7M466.06 326V327.4M475.8 449.1V447.7M475.8 326V327.4M485.54 449.1V446.8M485.54 326V328.3M495.28 449.1V447.7M495.28 326V327.4M505.02 449.1V447.7M505.02 326V327.4M514.76 449.1V447.7M514.76 326V327.4M524.5 449.1V446.8M524.5 326V328.3M319.3 444.06H320.7M535.2 444.06H533.8M319.3 439.71H320.7M535.2 439.71H533.8M319.3 435.35H320.7M535.2 435.35H533.8M319.3 431H321.6M535.2 431H532.9M319.3 426.64H320.7M535.2 426.64H533.8M319.3 422.29H320.7M535.2 422.29H533.8M319.3 417.93H320.7M535.2 417.93H533.8M319.3 413.58H320.7M535.2 413.58H533.8M319.3 409.22H321.6M535.2 409.22H532.9M319.3 404.87H320.7M535.2 404.87H533.8M319.3 400.51H320.7M535.2 400.51H533.8M319.3 396.16H320.7M535.2 396.16H533.8M319.3 391.8H320.7M535.2 391.8H533.8M319.3 387.45H321.6M535.2 387.45H532.9M319.3 383.09H320.7M535.2 383.09H533.8M319.3 378.74H320.7M535.2 378.74H533.8M319.3 374.38H320.7M535.2 374.38H533.8M319.3 370.03H320.7M535.2 370.03H533.8M319.3 365.67H321.6M535.2 365.67H532.9M319.3 361.32H320.7M535.2 361.32H533.8M319.3 356.96H320.7M535.2 356.96H533.8M319.3 352.61H320.7M535.2 352.61H533.8M319.3 348.25H320.7M535.2 348.25H533.8M319.3 343.9H321.6M535.2 343.9H532.9M319.3 339.54H320.7M535.2 339.54H533.8M319.3 335.19H320.7M535.2 335.19H533.8M319.3 330.83H320.7M535.2 330.83H533.8" stroke="#222" stroke-width="1.2" fill="none"/>
<rect x="319.3" y="326" width="215.9" height="123.1" fill="none" stroke="#484848" stroke-width="1.35"/>
<text x="306.3" y="434.1" class="tl" textLength="11.0" lengthAdjust="spacingAndGlyphs">1.5</text>
<text x="306.3" y="412.32" class="tl" textLength="11.0" lengthAdjust="spacingAndGlyphs">2.0</text>
<text x="306.3" y="390.55" class="tl" textLength="11.0" lengthAdjust="spacingAndGlyphs">2.5</text>
<text x="306.3" y="368.77" class="tl" textLength="11.0" lengthAdjust="spacingAndGlyphs">3.0</text>
<text x="306.3" y="347" class="tl" textLength="11.0" lengthAdjust="spacingAndGlyphs">3.5</text>
<text x="329.7" y="460" class="tl" text-anchor="middle">0</text>
<text x="368.66" y="460" class="tl" text-anchor="middle">2</text>
<text x="407.62" y="460" class="tl" text-anchor="middle">4</text>
<text x="446.58" y="460" class="tl" text-anchor="middle">6</text>
<text x="485.54" y="460" class="tl" text-anchor="middle">8</text>
<text x="524.5" y="460" class="tl" text-anchor="middle">10</text>
<text x="284.2" y="338.7" class="pl" textLength="16.4" lengthAdjust="spacingAndGlyphs">(f)</text>
<text x="330.3" y="340.4" class="ti">SrCoO<tspan class="sub" dy="1.7">3</tspan></text>
<text transform="translate(297.5 388) rotate(-90)" class="yl" text-anchor="middle" dominant-baseline="central" style="letter-spacing:0;font-size:12.2px">m (<tspan font-style="italic">μ</tspan><tspan font-style="italic" style="font-size:8.5px;stroke-width:0.15px" dy="2.6">B</tspan><tspan dy="-2.6">/Co)</tspan></text>
<text x="407.6" y="476.8" class="xl" font-style="italic">U</text>
<text x="415.7" y="478.8" class="xl" style="font-size:8.4px;stroke-width:0.25px">Co</text>
<text x="427.6" y="476.8" class="xl" textLength="19.6" lengthAdjust="spacingAndGlyphs">(eV)</text>
</svg></body></html>
